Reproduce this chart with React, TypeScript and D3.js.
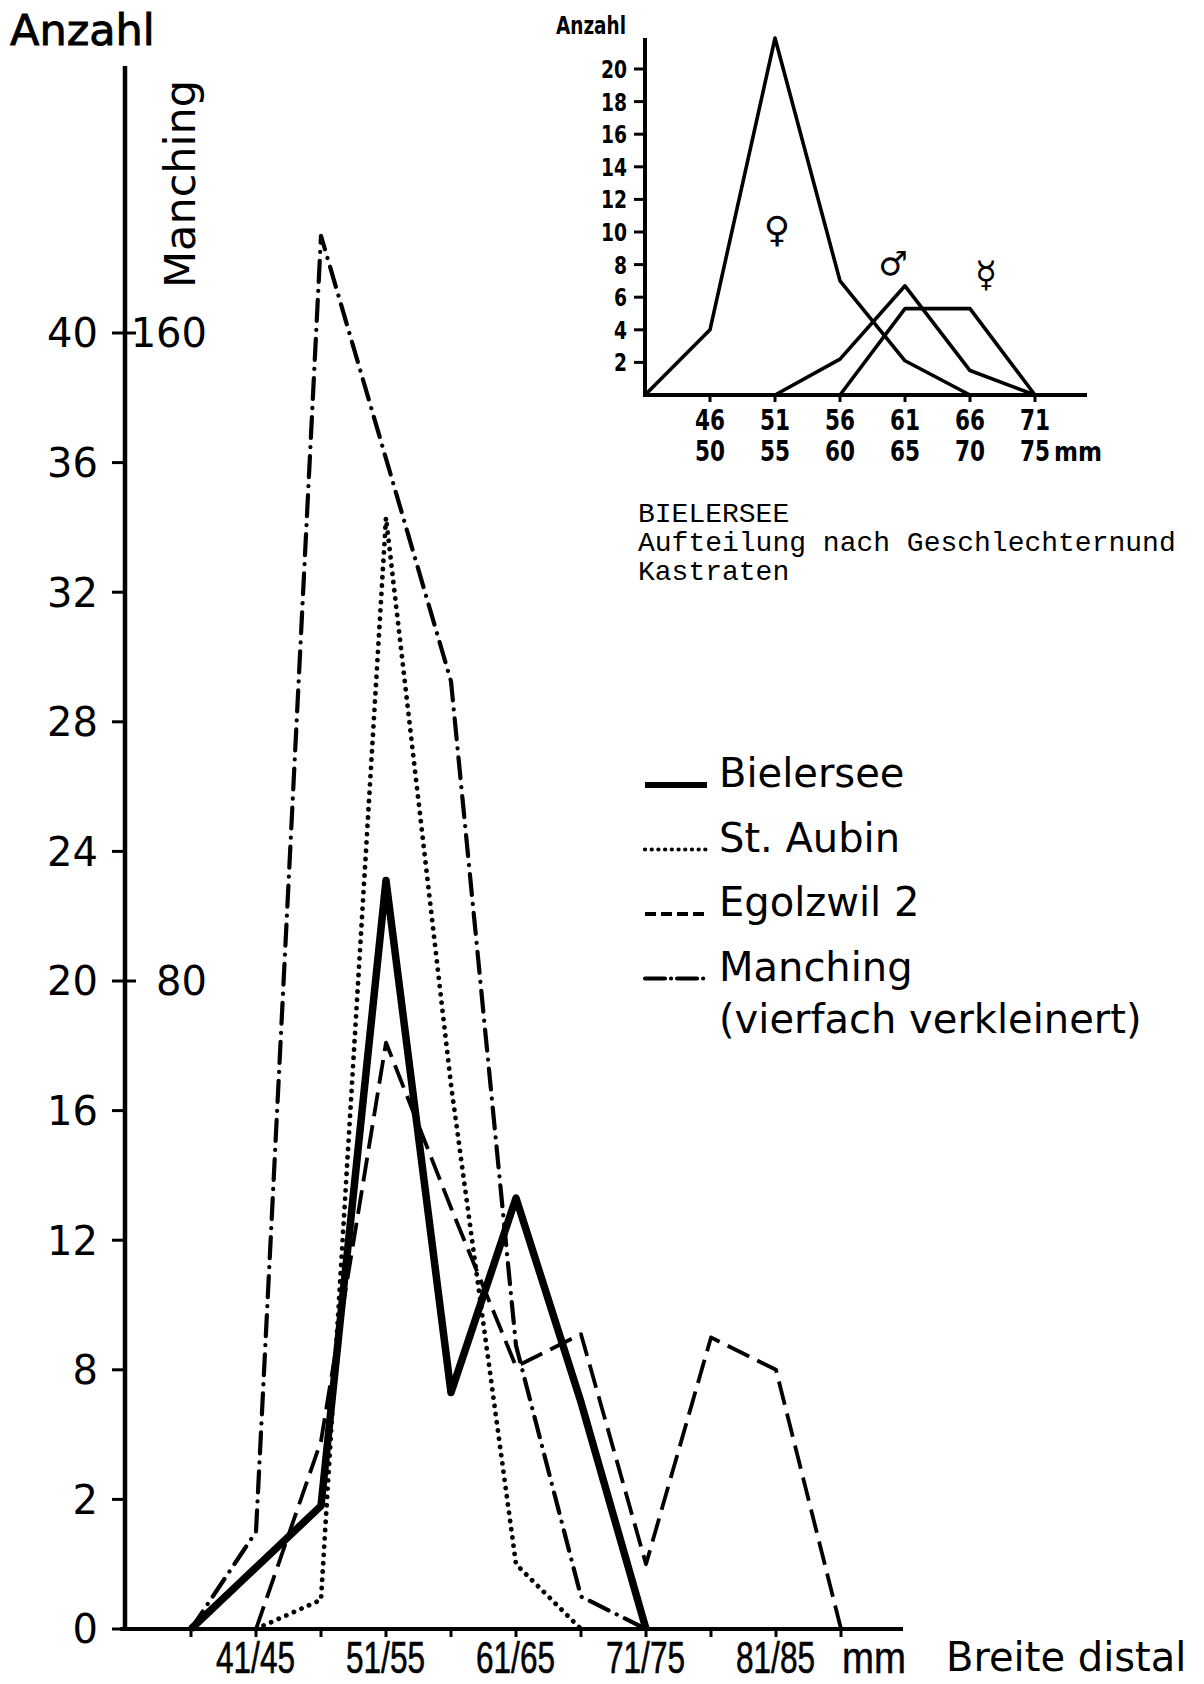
import React from 'react';
import * as d3 from 'd3';

// main chart: size classes (Breite distal, mm)
const classes = ['36/40', '41/45', '46/50', '51/55', '56/60', '61/65', '66/70', '71/75', '76/80', '81/85', '86/90'];
const classLabels = ['41/45', '51/55', '61/65', '71/75', '81/85'];
// the printed axis is evenly spaced but labelled 0, 2, 8, 12 ...
const yTickValues = [0, 4, 8, 12, 16, 20, 24, 28, 32, 36, 40];
const yTickLabels = ['0', '2', '8', '12', '16', '20', '24', '28', '32', '36', '40'];
const manchingTicks = [80, 160];

type Pt = [string, number];

const bielersee: Pt[] = [['36/40', 0], ['46/50', 3.8], ['51/55', 23.1], ['56/60', 7.3], ['61/65', 13.3], ['66/70', 7.0], ['71/75', 0]];
const stAubin: Pt[] = [['41/45', 0], ['46/50', 0.9], ['51/55', 34.3], ['56/60', 16.8], ['61/65', 2.0], ['66/70', 0]];
const egolzwil: Pt[] = [['41/45', 0], ['46/50', 5.8], ['51/55', 18.1], ['56/60', 13.0], ['61/65', 8.1], ['66/70', 9.1], ['71/75', 2.0], ['76/80', 9.0], ['81/85', 8.0], ['86/90', 0]];
// Manching in real counts (drawn four times reduced)
const manching: Pt[] = [['36/40', 0], ['41/45', 12], ['46/50', 172], ['56/60', 117], ['61/65', 35], ['66/70', 4], ['71/75', 0]];

const legendNames = ['Bielersee', 'St. Aubin', 'Egolzwil 2', 'Manching'];

// inset: Bielersee by sex
const insetClasses = ['41/45', '46/50', '51/55', '56/60', '61/65', '66/70', '71/75'];
const insetLabelsTop = ['46', '51', '56', '61', '66', '71'];
const insetLabelsBottom = ['50', '55', '60', '65', '70', '75'];
const insetTicks = [2, 4, 6, 8, 10, 12, 14, 16, 18, 20];
const female: Pt[] = [['41/45', 0], ['46/50', 4.0], ['51/55', 21.9], ['56/60', 7.0], ['61/65', 2.1], ['66/70', 0]];
const male: Pt[] = [['51/55', 0], ['56/60', 2.2], ['61/65', 6.7], ['66/70', 1.5], ['71/75', 0]];
const castrate: Pt[] = [['56/60', 0], ['61/65', 5.3], ['66/70', 5.3], ['71/75', 0]];
const noteLines = ['BIELERSEE', 'Aufteilung nach Geschlechternund', 'Kastraten'];

const SANS = '"DejaVu Sans", sans-serif';
const COND = '"DejaVu Sans Condensed", sans-serif';
const LIB = '"Liberation Sans", Arial, sans-serif';

export default function App() {
  const x = d3.scalePoint<string>().domain(classes).range([191, 841]);
  const y = d3.scaleLinear().domain([0, 40]).range([1629, 333]);
  const yM = d3.scaleLinear().domain([0, 160]).range([1629, 333]);
  const axisX = 125;

  const line = d3.line<Pt>().x(d => x(d[0])!).y(d => y(d[1]));
  const lineM = d3.line<Pt>().x(d => x(d[0])!).y(d => yM(d[1]));

  const styles: Record<string, any> = {
    'Bielersee': { strokeWidth: 7.5 },
    'St. Aubin': { strokeWidth: 4.8, strokeDasharray: '0.1 8.2', strokeLinecap: 'round' },
    'Egolzwil 2': { strokeWidth: 3.8, strokeDasharray: '24 9' },
    'Manching': { strokeWidth: 4.2, strokeDasharray: '21 9 0.1 9', strokeLinecap: 'round' },
  };
  const legendDash: Record<string, string | undefined> = {
    'Bielersee': undefined,
    'St. Aubin': '0.1 6.6',
    'Egolzwil 2': '11 5',
    'Manching': '20 6 0.1 6',
  };
  const paths: [string, string | null][] = [
    ['Manching', lineM(manching)],
    ['St. Aubin', line(stAubin)],
    ['Egolzwil 2', line(egolzwil)],
    ['Bielersee', line(bielersee)],
  ];

  const xi = d3.scalePoint<string>().domain(insetClasses).range([645, 1035]);
  const yi = d3.scaleLinear().domain([0, 20]).range([395, 69]);
  const lineI = d3.line<Pt>().x(d => xi(d[0])!).y(d => yi(d[1]));

  return (
    <svg width={1204} height={1684} style={{ position: 'absolute', left: 0, top: 0, background: '#fff' }}>
      {/* ---------- main chart ---------- */}
      <text x={10} y={45} fontFamily={SANS} fontSize={43} stroke="#000" strokeWidth={0.9}>Anzahl</text>
      <line x1={axisX} x2={axisX} y1={66} y2={y(0) + 2} stroke="#000" strokeWidth={4.5} />
      <line x1={120} x2={903} y1={y(0)} y2={y(0)} stroke="#000" strokeWidth={4} />

      {yTickValues.map((v, i) => (
        <g key={v}>
          <line x1={112} x2={v === 20 || v === 40 ? 136 : axisX} y1={y(v)} y2={y(v)} stroke="#000" strokeWidth={3} />
          <text x={98} y={y(v)} dy="0.36em" textAnchor="end" fontFamily={SANS} fontSize={40}>{yTickLabels[i]}</text>
        </g>
      ))}
      {manchingTicks.map(v => (
        <text key={v} x={207} y={yM(v)} dy="0.36em" textAnchor="end" fontFamily={SANS} fontSize={40}>{v}</text>
      ))}
      <text transform="translate(195,184) rotate(-90)" textAnchor="middle" fontFamily={SANS} fontSize={43}>Manching</text>

      {classes.map(c => (
        <line key={c} x1={x(c)} x2={x(c)} y1={y(0)} y2={y(0) + 8} stroke="#000" strokeWidth={3} />
      ))}
      {classLabels.map(c => (
        <text key={c} x={x(c)! - 40} y={1673} fontFamily={LIB} fontSize={44} stroke="#000" strokeWidth={0.6}
          textLength={79} lengthAdjust="spacingAndGlyphs">{c}</text>
      ))}
      <text x={842} y={1673} fontFamily={LIB} fontSize={44} stroke="#000" strokeWidth={0.5} textLength={64} lengthAdjust="spacingAndGlyphs">mm</text>
      <text x={946} y={1671} fontFamily={SANS} fontSize={40}>Breite distal</text>

      {paths.map(([name, d]) => (
        <path key={name} d={d ?? ''} fill="none" stroke="#000" strokeLinejoin="round" {...styles[name]} />
      ))}

      {/* legend */}
      {legendNames.map((name, i) => (
        <g key={name} transform={`translate(645,${787 + i * 64.5})`}>
          <line x1={0} x2={62} y1={-2} y2={-2} stroke="#000"
            strokeWidth={name === 'Bielersee' ? 6 : 4.2}
            strokeLinecap={name === 'St. Aubin' || name === 'Manching' ? 'round' : 'butt'}
            strokeDasharray={legendDash[name]} />
          <text x={74} y={0} fontFamily={SANS} fontSize={40}>{name}</text>
        </g>
      ))}
      <text x={719} y={1033} fontFamily={SANS} fontSize={40}>(vierfach verkleinert)</text>

      {/* ---------- inset ---------- */}
      <text x={556} y={34} fontFamily={COND} fontWeight="bold" fontSize={24} textLength={70} lengthAdjust="spacingAndGlyphs">Anzahl</text>
      <line x1={645} x2={645} y1={38} y2={yi(0)} stroke="#000" strokeWidth={4} />
      <line x1={643} x2={1087} y1={yi(0)} y2={yi(0)} stroke="#000" strokeWidth={4} />
      {insetTicks.map(v => (
        <g key={v}>
          <line x1={634} x2={645} y1={yi(v)} y2={yi(v)} stroke="#000" strokeWidth={3} />
          <text x={627 - (String(v).length * 13)} y={yi(v)} dy="0.36em" fontFamily={COND} fontWeight="bold" fontSize={25}
            textLength={String(v).length * 13} lengthAdjust="spacingAndGlyphs">{v}</text>
        </g>
      ))}
      {insetClasses.slice(1).map((c, i) => (
        <g key={c}>
          <line x1={xi(c)} x2={xi(c)} y1={yi(0)} y2={yi(0) + 7} stroke="#000" strokeWidth={3} />
          <text x={xi(c)! - 15} y={430} fontFamily={COND} fontWeight="bold" fontSize={28}
            textLength={30} lengthAdjust="spacingAndGlyphs">{insetLabelsTop[i]}</text>
          <text x={xi(c)! - 15} y={461} fontFamily={COND} fontWeight="bold" fontSize={28}
            textLength={30} lengthAdjust="spacingAndGlyphs">{insetLabelsBottom[i]}</text>
        </g>
      ))}
      <text x={1054} y={461} fontFamily={COND} fontWeight="bold" fontSize={26} textLength={48} lengthAdjust="spacingAndGlyphs">mm</text>
      {[female, male, castrate].map((s, i) => (
        <path key={i} d={lineI(s) ?? ''} fill="none" stroke="#000" strokeWidth={3.6} strokeLinejoin="round" />
      ))}
      <text x={xi('51/55')! + 2} y={yi(10.2)} dy="0.36em" textAnchor="middle" fontFamily={SANS} fontWeight="bold" fontSize={36}>♀</text>
      <text x={xi('61/65')! - 12} y={yi(8.1)} dy="0.36em" textAnchor="middle" fontFamily={SANS} fontWeight="bold" fontSize={33}>♂</text>
      <text x={xi('66/70')! + 16} y={yi(7.4)} dy="0.36em" textAnchor="middle" fontFamily={SANS} fontWeight="bold" fontSize={36}>☿</text>

      {noteLines.map((t, i) => (
        <text key={t} x={638} y={522 + i * 29} fontFamily={'"Liberation Mono", monospace'} fontSize={28}>{t}</text>
      ))}
    </svg>
  );
}
